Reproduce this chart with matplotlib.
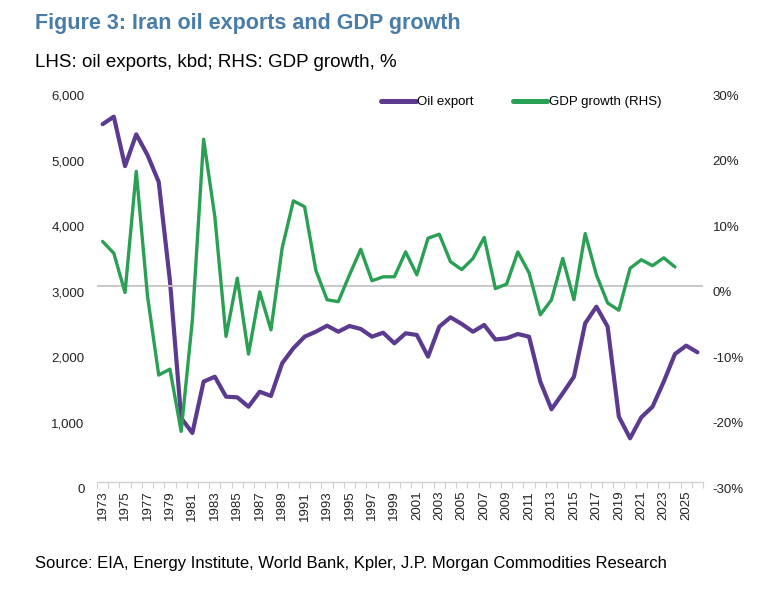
"""Iran oil exports vs GDP growth, dual-axis line chart."""

import matplotlib

matplotlib.use("Agg")
import matplotlib.pyplot as plt
import matplotlib.transforms as mtransforms
import numpy as np
from matplotlib.ticker import FuncFormatter, MultipleLocator

years = list(range(1973, 2027))

# kbd
oil_export = [
    5470, 5585, 4830, 5315, 5000, 4590, 3080, 985, 756, 1540,
    1615, 1310, 1300, 1157, 1386, 1321, 1820, 2050, 2226, 2302,
    2394, 2302, 2389, 2344, 2226, 2287, 2125, 2278, 2252, 1921,
    2379, 2522, 2420, 2302, 2405, 2183, 2202, 2267, 2226, 1539,
    1118, 1362, 1615, 2431, 2684, 2379, 1005, 675, 995, 1157,
    1539, 1962, 2089, 1988,
]

# %, no data for the last two years
gdp_growth = [
    6.8, 5.0, -1.0, 17.5, -1.5, -13.6, -12.7, -22.2, -5.2, 22.4,
    10.6, -7.7, 1.2, -10.4, -0.9, -6.7, 5.8, 13.0, 12.1, 2.4,
    -2.1, -2.4, 1.7, 5.6, 0.8, 1.4, 1.4, 5.2, 1.7, 7.3,
    7.9, 3.7, 2.5, 4.2, 7.4, -0.4, 0.3, 5.2, 2.0, -4.4,
    -2.1, 4.2, -2.1, 8.0, 1.7, -2.6, -3.7, 2.7, 4.0, 3.1,
    4.3, 2.9, np.nan, np.nan,
]

PURPLE = "#5b3a90"
GREEN = "#2aa055"
TITLE_BLUE = "#4a7ca8"
SANS = ["Liberation Sans", "DejaVu Sans"]

plt.rcParams["font.family"] = SANS

fig = plt.figure(figsize=(7.77, 5.91), dpi=100)
ax = fig.add_axes([0.1248, 0.1836, 0.78, 0.665])
ax2 = ax.twinx()

x = np.arange(len(years))

ax2.axhline(0, color="#c4c4c4", linewidth=1.3, zorder=1)
(oil_line,) = ax.plot(x, oil_export, color=PURPLE, linewidth=3.0,
                      solid_capstyle="round", solid_joinstyle="round",
                      label="Oil export")
(gdp_line,) = ax2.plot(x, gdp_growth, color=GREEN, linewidth=2.4,
                       solid_capstyle="round", solid_joinstyle="round",
                       label="GDP growth (RHS)", zorder=3)

ax.set_xlim(-0.5, len(years) - 0.5)
ax.set_ylim(0, 6000)
ax2.set_ylim(-30, 30)

ax.yaxis.set_major_locator(MultipleLocator(1000))
ax.yaxis.set_major_formatter(FuncFormatter(lambda v, _: f"{v:,.0f}"))
ax2.yaxis.set_major_locator(MultipleLocator(10))
ax2.yaxis.set_major_formatter(FuncFormatter(lambda v, _: f"{v:.0f}%"))

ax.set_xticks(x[::2])
ax.set_xticklabels([str(y) for y in years[::2]], rotation=90)
ax.set_xticks(np.arange(-0.5, len(years), 1), minor=True)

for a in (ax, ax2):
    for side in ("top", "left", "right"):
        a.spines[side].set_visible(False)
ax2.spines["bottom"].set_visible(False)
ax.spines["bottom"].set_color("#d0d0d0")
ax.spines["bottom"].set_linewidth(1.0)

ax.tick_params(axis="x", which="major", length=0, pad=6, labelsize=9.5,
               labelcolor="#222222")
ax.tick_params(axis="x", which="minor", length=4, color="#d0d0d0", width=0.8)
ax.tick_params(axis="y", length=0, pad=9, labelsize=9.5, labelcolor="#222222")
ax2.tick_params(axis="y", length=0, pad=7, labelsize=9.5, labelcolor="#222222")

# value labels sit a little below their gridline in the original
shift = mtransforms.ScaledTranslation(0, -4 / 72, fig.dpi_scale_trans)
for lbl in ax.get_yticklabels() + ax2.get_yticklabels():
    lbl.set_transform(lbl.get_transform() + shift)

leg = fig.legend(
    handles=[oil_line, gdp_line],
    loc="center",
    bbox_to_anchor=(0.671, 0.827),
    ncol=2,
    frameon=False,
    handlelength=2.6,
    handletextpad=0.1,
    columnspacing=3.0,
    prop={"size": 9.5},
)
for line in leg.get_lines():
    line.set_linewidth(3.6)
    line.set_solid_capstyle("round")

fig.text(0.045, 0.960, "Figure 3: Iran oil exports and GDP growth",
         fontsize=15.5, fontweight="bold", color=TITLE_BLUE,
         va="center", ha="left")
fig.text(0.045, 0.894, "LHS: oil exports, kbd; RHS: GDP growth, %",
         fontsize=13.5, color="black", va="center", ha="left")
fig.text(0.045, 0.047,
         "Source: EIA, Energy Institute, World Bank, Kpler, J.P. Morgan Commodities Research",
         fontsize=12, color="black", va="center", ha="left")

fig.savefig("out.png", dpi=100)
